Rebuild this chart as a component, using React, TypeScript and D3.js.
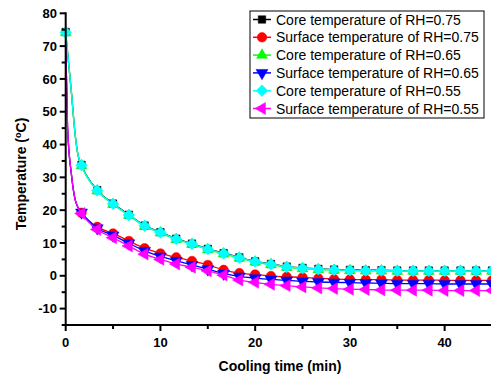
import React from 'react';
import * as d3 from 'd3';

const W = 491;
const H = 378;

// sampling times of the markers (min), every 100 s
const times = [
  0, 1.67, 3.33, 5, 6.67, 8.33, 10, 11.67, 13.33, 15, 16.67, 18.33, 20, 21.67,
  23.33, 25, 26.67, 28.33, 30, 31.67, 33.33, 35, 36.67, 38.33, 40, 41.67, 43.33, 45,
];

const coreRH75 = [74.3, 33.8, 26.1, 22.0, 18.6, 15.3, 13.3, 11.3, 9.8, 8.2, 6.9, 5.6, 4.4, 3.6, 2.8, 2.4, 2.1, 1.9, 1.8, 1.7, 1.7, 1.6, 1.6, 1.6, 1.6, 1.6, 1.6, 1.6];
const surfRH75 = [70, 19.2, 14.9, 12.9, 10.6, 8.4, 6.8, 5.6, 4.5, 3.3, 1.8, 0.8, 0.4, -0.1, -0.3, -0.5, -0.8, -1.0, -1.1, -1.2, -1.2, -1.3, -1.3, -1.3, -1.4, -1.4, -1.4, -1.4];
const coreRH65 = [74.1, 33.6, 25.9, 21.8, 18.4, 15.1, 13.1, 11.1, 9.6, 8.0, 6.7, 5.4, 4.2, 3.4, 2.6, 2.2, 1.9, 1.7, 1.6, 1.5, 1.5, 1.4, 1.4, 1.4, 1.4, 1.4, 1.4, 1.4];
const surfRH65 = [70, 19.3, 14.5, 12.3, 9.9, 7.6, 5.9, 4.6, 3.3, 2.0, 0.7, -0.2, -0.7, -1.1, -1.4, -1.7, -1.9, -2.0, -2.1, -2.2, -2.3, -2.4, -2.4, -2.4, -2.5, -2.5, -2.5, -2.5];
const coreRH55 = [74.2, 33.7, 26.0, 21.9, 18.5, 15.2, 13.2, 11.2, 9.7, 8.1, 6.8, 5.5, 4.3, 3.5, 2.7, 2.3, 2.0, 1.8, 1.7, 1.6, 1.6, 1.5, 1.5, 1.5, 1.5, 1.5, 1.5, 1.5];
const surfRH55 = [70, 19.0, 14.1, 11.6, 9.1, 6.6, 5.0, 3.6, 2.6, 1.5, 0.2, -1.3, -2.0, -2.6, -3.0, -3.4, -3.7, -3.9, -4.1, -4.2, -4.3, -4.4, -4.4, -4.4, -4.5, -4.5, -4.5, -4.5];

// extra readings of the steep first drop (line only, no markers)
const earlyTimes = [0.1, 0.2, 0.6, 1.0, 1.3];
const coreEarly = [71, 68, 56, 43, 36.8];
const surfEarly = [58, 45, 31, 23.2, 20.8];

const labels = [
  'Core temperature of RH=0.75',
  'Surface temperature of RH=0.75',
  'Core temperature of RH=0.65',
  'Surface temperature of RH=0.65',
  'Core temperature of RH=0.55',
  'Surface temperature of RH=0.55',
];
const colors = ['#000000', '#ff0000', '#00ff00', '#0000ff', '#00ffff', '#ff00ff'];
const shapes = ['square', 'circle', 'up', 'down', 'diamond', 'left'];
const seriesValues = [coreRH75, surfRH75, coreRH65, surfRH65, coreRH55, surfRH55];
const earlyValues = [coreEarly, surfEarly, coreEarly, surfEarly, coreEarly, surfEarly];

const xTicks = [0, 10, 20, 30, 40];
const yTicks = [80, 70, 60, 50, 40, 30, 20, 10, 0, -10];

const FONT = 'Arial, "Liberation Sans", Helvetica, sans-serif';

function markerPath(shape: string) {
  const sym = d3.symbol();
  if (shape === 'square') return sym.type(d3.symbolSquare).size(56)();
  if (shape === 'circle') return sym.type(d3.symbolCircle).size(72)();
  if (shape === 'diamond') return sym.type(d3.symbolSquare).size(68)();
  if (shape === 'up') return sym.type(d3.symbolTriangle).size(52)();
  return sym.type(d3.symbolTriangle).size(62)();
}
function markerRotate(shape: string) {
  if (shape === 'down') return 180;
  if (shape === 'left') return -90;
  if (shape === 'diamond') return 45;
  return 0;
}

const Marker = ({ shape, color, x, y }: any) => (
  <path
    d={markerPath(shape) || ''}
    transform={`translate(${x},${y}) rotate(${markerRotate(shape)})`}
    fill={color}
    stroke={color}
    strokeWidth={0.5}
  />
);

export default function App() {
  const x = d3.scaleLinear().domain([0, 45]).range([65.7, 492]);
  const y = d3.scaleLinear().domain([-15, 80]).range([325, 13.3]);

  const line = d3
    .line<[number, number]>()
    .x((d) => x(d[0]))
    .y((d) => y(d[1]))
    .curve(d3.curveMonotoneX);

  const minorX = d3.range(0, 46, 5).filter((v) => v % 10 !== 0);
  const minorY = d3.range(-15, 81, 5).filter((v) => v % 10 !== 0);

  const legX = 250;
  const legY = 11;
  const rowH = 17.8;

  return (
    <svg
      width={W}
      height={H}
      style={{ position: 'absolute', left: 0, top: 0, background: '#fff' }}
      fontFamily={FONT}
    >
      <rect width={W} height={H} fill="#fff" />

      {seriesValues.map((vals, i) => {
        const pts: [number, number][] = [[times[0], vals[0]]];
        earlyTimes.forEach((t, j) => pts.push([t, earlyValues[i][j]]));
        times.slice(1).forEach((t, j) => pts.push([t, vals[j + 1]]));
        return (
          <g key={labels[i]}>
            <path d={line(pts) || ''} fill="none" stroke={colors[i]} strokeWidth={1.3} />
            {times.map((t, j) =>
              j === 0 && i % 2 === 1 ? null : (
                <Marker key={j} shape={shapes[i]} color={colors[i]} x={x(t)} y={y(vals[j])} />
              )
            )}
          </g>
        );
      })}

      {/* axes */}
      <g stroke="#000" strokeWidth={2}>
        <line x1={x(0)} x2={x(0)} y1={y(80) - 1} y2={y(-15) + 1} />
        <line x1={x(0) - 1} x2={W} y1={y(-15)} y2={y(-15)} />
        {xTicks.map((t) => (
          <line key={'xt' + t} x1={x(t)} x2={x(t)} y1={y(-15)} y2={y(-15) + 6} />
        ))}
        {minorX.map((t) => (
          <line key={'xm' + t} x1={x(t)} x2={x(t)} y1={y(-15)} y2={y(-15) + 4} />
        ))}
        {yTicks.map((t) => (
          <line key={'yt' + t} x1={x(0) - 6} x2={x(0)} y1={y(t)} y2={y(t)} />
        ))}
        {minorY.map((t) => (
          <line key={'ym' + t} x1={x(0) - 4} x2={x(0)} y1={y(t)} y2={y(t)} />
        ))}
      </g>
      <g fontSize={13} fontWeight="bold" fill="#000">
        {xTicks.map((t) => (
          <text key={'xl' + t} x={x(t)} y={347} textAnchor="middle">
            {t}
          </text>
        ))}
        {yTicks.map((t) => (
          <text key={'yl' + t} x={57} y={y(t) + 4.6} textAnchor="end">
            {t}
          </text>
        ))}
      </g>
      <text x={280} y={371} textAnchor="middle" fontSize={14} fontWeight="bold">
        Cooling time (min)
      </text>
      <text
        transform={`translate(26,${174}) rotate(-90)`}
        textAnchor="middle"
        fontSize={14}
        fontWeight="bold"
      >
        Temperature (<tspan dy={-5} fontSize={9}>o</tspan>
        <tspan dy={5}>C)</tspan>
      </text>

      {/* legend */}
      <rect x={legX} y={legY} width={234} height={107} fill="#fff" stroke="#000" strokeWidth={1} />
      {labels.map((lab, i) => {
        const cy = legY + 8.5 + i * rowH;
        return (
          <g key={'lg' + i}>
            <line x1={legX + 3} x2={legX + 21} y1={cy} y2={cy} stroke={colors[i]} strokeWidth={1.5} />
            <Marker shape={shapes[i]} color={colors[i]} x={legX + 12} y={cy} />
            <text x={legX + 26} y={cy + 5} fontSize={14}>
              {lab}
            </text>
          </g>
        );
      })}
    </svg>
  );
}
